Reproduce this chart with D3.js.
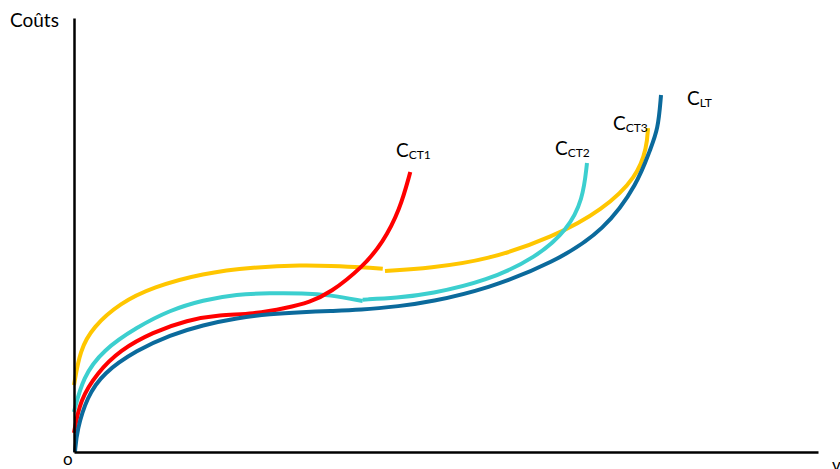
<!DOCTYPE html>
<html><head><meta charset="utf-8">
<script src="https://cdn.jsdelivr.net/npm/d3@7"></script>
<style>html,body{margin:0;padding:0;background:#fff;}svg{display:block;}</style>
</head><body>
<script>
// Data (arbitrary units: output 0..100, cost 0..100)
const cltData = [[0.13,0],[0.4,5.07],[1.75,12.67],[3.9,18.2],[8.47,23.5],[12.9,26.96],[17.34,29.26],[21.9,30.88],[26.34,31.8],[30.78,32.26],[34.4,32.5],[38.4,32.7],[43.8,33.6],[47.85,34.56],[55.5,37.56],[64.4,43.55],[71.4,51.15],[75.8,62],[77.4,69.6],[78.5,74.2],[78.9,82.26]];
const cct3DataA = [[0,15.4],[0.8,23.5],[2.55,28.8],[6.18,34.3],[10.6,38.0],[17.3,41.2],[24.1,42.6],[30.8,43.1],[34.4,42.9],[38.8,42.6],[41.5,42.2]];
const cct3DataB = [[41.8,41.7],[47.85,42.4],[55.5,44.2],[64.4,49.5],[71.1,55.8],[75.7,63.4],[77.0,70.3],[77.15,74.65]];
const cct2DataA = [[0,9.2],[1.2,17.3],[3.9,23.5],[8.47,28.8],[12.9,32.7],[17.34,35.0],[21.9,36.4],[26.3,36.6],[30.8,36.6],[34.4,36.2],[38.8,34.8]];
const cct2DataB = [[38.8,35.1],[43.4,35.5],[47.85,36.4],[55.5,39.4],[62.2,44.9],[66.3,51.15],[68.4,58.1],[68.95,66.6]];
const cct1Data = [[0,4.4],[0.8,12.0],[3.1,18.2],[6.18,23.5],[10.6,27.6],[15.2,30.4],[19.6,31.6],[24.06,31.8],[28.6,33.2],[31.7,34.56],[34.4,36.6],[38.8,42.6],[41.5,48.2],[43.8,55.8],[45.2,64.5]];
const labels = [
  {main:"C", sub:"CT1", x:43.28, y:68.0},
  {main:"C", sub:"CT2", x:64.65, y:68.4},
  {main:"C", sub:"CT3", x:72.45, y:74.2},
  {main:"C", sub:"LT",  x:82.4, y:79.95}
];
const yAxisTitle = "Coûts";
const originLabel = "o";
const xAxisTitle = "v";

const W = 840, H = 469;
const svg = d3.select("body").append("svg").attr("width", W).attr("height", H);
const x = d3.scaleLinear().domain([0,100]).range([74,818]);
const y = d3.scaleLinear().domain([0,100]).range([452,18]);

const line = d3.line().x(d=>x(d[0])).y(d=>y(d[1])).curve(d3.curveBasis);

const series = [
  {data:cct3DataA, color:"#ffc600"},
  {data:cct3DataB, color:"#ffc600"},
  {data:cct2DataA, color:"#3ccfcf"},
  {data:cct2DataB, color:"#3ccfcf"},
  {data:cct1Data, color:"#ff0000"},
  {data:cltData, color:"#0b6a9c"}
];
svg.selectAll("path.curve").data(series).enter().append("path")
  .attr("class","curve")
  .attr("d", d=>line(d.data))
  .attr("fill","none")
  .attr("stroke", d=>d.color)
  .attr("stroke-width", 4);

// axes
const xAxis = d3.axisBottom(x).tickValues([]).tickSizeOuter(0);
const yAxis = d3.axisLeft(y).tickValues([]).tickSizeOuter(0);
svg.append("g").attr("transform","translate(0,452)").call(xAxis)
  .select(".domain").attr("stroke","#000").attr("stroke-width",2.5);
svg.append("g").attr("transform","translate(74,0)").call(yAxis)
  .select(".domain").attr("stroke","#000").attr("stroke-width",2.5);

const font = "Lato, 'Open Sans', sans-serif";
svg.append("text").attr("x",10).attr("y",27).attr("font-family",font).attr("font-size",19).attr("fill","#000").text(yAxisTitle);
svg.append("text").attr("x",63).attr("y",465).attr("font-family",font).attr("font-size",17).attr("fill","#000").text(originLabel);
svg.append("text").attr("x",832).attr("y",471).attr("font-family",font).attr("font-size",17).attr("fill","#000").text(xAxisTitle);

const lab = svg.selectAll("text.lab").data(labels).enter().append("text")
  .attr("class","lab")
  .attr("x", d=>x(d.x)).attr("y", d=>y(d.y))
  .attr("font-family",font).attr("fill","#000");
lab.append("tspan").attr("font-size",19).text(d=>d.main);
lab.append("tspan").attr("font-size",12).attr("dy",2).text(d=>d.sub);
</script>
</body></html>
